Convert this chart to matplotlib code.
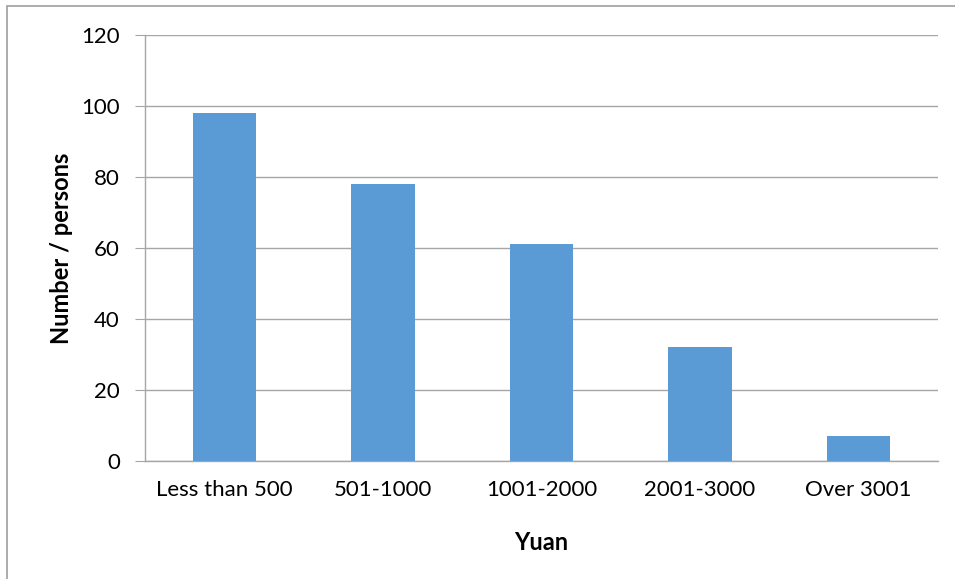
import matplotlib
matplotlib.use("Agg")
import matplotlib.pyplot as plt
from matplotlib.patches import Rectangle

plt.rcParams['font.family'] = ['Lato', 'DejaVu Sans']

categories = ["Less than 500", "501-1000", "1001-2000", "2001-3000", "Over 3001"]
persons = [98, 78, 61, 32, 7]
y_ticks = [0, 20, 40, 60, 80, 100, 120]

W, H = 955, 579
fig = plt.figure(figsize=(W / 100, H / 100), dpi=100)

# chart-area frame (left and top edges visible, the rest runs off the canvas)
fig.patches.append(Rectangle((6.5 / W, -0.1), 2.0, (H - 5.5) / H + 0.1,
                             transform=fig.transFigure, fill=False,
                             edgecolor="#a6a6a6", linewidth=1.3, zorder=0))

left, right, top, bottom = 145, 938, 35, 461
ax = fig.add_axes([left / W, 1 - bottom / H, (right - left) / W, (bottom - top) / H])

x = range(len(categories))
ax.bar(x, persons, width=0.4, color="#5b9bd5", zorder=3)

ax.set_xlim(-0.5, len(categories) - 0.5)
ax.set_ylim(0, 120)
ax.set_yticks(y_ticks)
ax.set_yticklabels([str(t) for t in y_ticks], fontsize=16)
ax.set_xticks(list(x))
ax.set_xticklabels(categories, fontsize=16)

ax.yaxis.grid(True, color="#a6a6a6", linewidth=1.0, zorder=0)
ax.set_axisbelow(True)

for s in ["top", "right"]:
    ax.spines[s].set_visible(False)
ax.spines["left"].set_color("#a6a6a6")
ax.spines["bottom"].set_color("#a6a6a6")
ax.spines["left"].set_linewidth(1.0)
ax.spines["bottom"].set_linewidth(1.0)

ax.tick_params(axis="y", length=7, color="#a6a6a6", pad=11, labelcolor="black")
ax.tick_params(axis="x", length=0, pad=14, labelcolor="black")

ax.set_xlabel("Yuan", fontsize=17, fontweight="bold", labelpad=22)
ax.set_ylabel("Number / persons", fontsize=17, fontweight="bold", labelpad=6)

fig.savefig("out.png", dpi=100)
